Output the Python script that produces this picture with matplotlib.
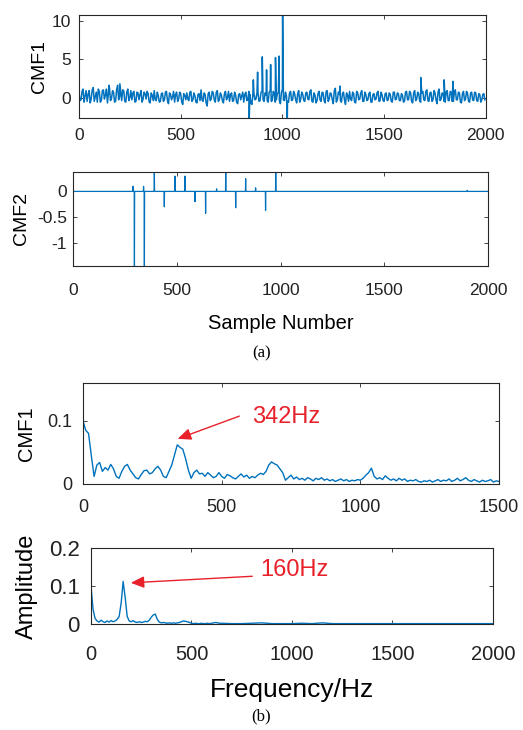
import numpy as np
import matplotlib
matplotlib.use('Agg')
import matplotlib.pyplot as plt

plt.rcParams['font.family'] = 'Liberation Sans'

# ---- (a) time signals ----
# CMF1 noise floor, samples 0, 10, 20, ...
cmf1_noise = [
    0.6, -0.3, 1.1, 0.2, -0.5, 0.9, -0.2, 1.3, 0.1, -0.6, 0.8, -0.4, 1.0, 0.3, -0.7, 1.2, -0.1, 0.7, -0.5, 1.6,
    0.2, -0.4, 0.9, -0.6, 1.1, 0.0, -0.3, 0.8, -0.5, 0.6,
    0.4, -0.6, 0.7, -0.2, 0.5, -0.7, 0.3, 0.9, -0.4, 0.2, -0.5, 0.6, -0.3, 0.8, -0.8, 0.4, 0.1, -0.6, 0.7, -0.2,
    0.5, -0.9, 0.3, 0.6, -0.4, 0.8, -0.3, 0.2, -0.7, 0.5,
    1.0, -0.5, 0.4, -1.1, 0.7, -0.2, 0.6, -0.6, 0.9, -0.3, 0.3, -0.7, 0.8, 0.0, -0.5, 0.6, -0.4, 0.3, -0.8, 0.5,
    0.2, -0.6, 0.7, -0.3, 0.4, -0.9, 0.5, -0.2, 0.6, -0.4,
    0.8, -0.5, 0.3, -0.6, 0.9, -0.4, 0.5, -0.3, 0.7, -0.8, 1.1, -0.4, 0.2, -0.6, 0.8, -0.3, 0.5, -0.7, 0.9, -0.2,
    0.4, -0.5, 0.7, -0.3, 1.0, -0.6, 0.3, -0.4, 0.8, -0.5,
    0.6, -0.7, 0.9, -0.2, 0.5, -0.8, 1.2, -0.3, 0.4, -0.6, 0.7, -0.9, 0.3, 0.8, -0.4, 0.5, -0.7, 0.6, -0.2, 0.9,
    -0.5, 0.4, -0.3, 0.7, -0.6, 0.5, -0.2, 0.8, -0.4, 0.3,
    -0.5, 0.6, -0.3, 0.4, -0.6, 0.7, -0.2, 0.5, -0.4, 0.3, -0.5, 0.8, -0.3, 0.6, -0.7, 0.9, -0.2, 0.5, -0.6, 0.8,
    -0.4, 1.0, -0.5, 0.7, -0.3, 0.6, -0.8, 1.1, -0.2, 0.5,
    -0.6, 0.9, -0.4, 0.7, -0.5, 1.0, -0.3, 0.6, -0.7, 0.8, -0.2, 0.5, -0.6, 0.7, -0.4, 0.6, -0.5, 0.4, -0.3, 0.5,
]
# samples 5, 15, 25, ...
cmf1_noise_mid = [
    -0.4, 0.8, -0.6, 0.9, 0.4, -0.7, 1.0, -0.5, 0.7, 1.1, -0.6, 0.9, -0.2, 1.1, 0.6, -0.4, 0.9, -0.6, 1.0, -0.3,
    0.8, 1.0, -0.5, 0.7, -0.4, 0.9, 0.6, -0.6, 0.7, -0.3,
    0.9, -0.2, 0.5, 0.8, -0.6, 0.6, -0.4, -0.3, 0.7, -0.6, 0.5, -0.5, 0.7, -0.4, 0.6, -0.3, 0.8, 0.4, -0.5, 0.7,
    -0.6, 0.5, -0.3, -0.2, 0.7, -0.5, 0.6, -0.6, 0.4, -0.4,
    -0.3, 0.6, -0.7, 0.5, -0.4, 0.8, -0.3, 0.7, -0.5, 0.6, -0.4, 0.5, -0.3, 0.8, 0.4, -0.5, 0.7, -0.6, 0.4, -0.3,
    0.7, 0.4, -0.4, 0.8, -0.7, 0.5, -0.3, 0.6, -0.5, 0.7,
    -0.3, 0.6, -0.4, 0.7, -0.5, 0.8, -0.6, 0.5, -0.4, 0.6, -0.3, 0.7, -0.5, 0.6, -0.4, 0.8, -0.3, 0.5, -0.6, 0.7,
    -0.4, 0.6, -0.2, 0.8, -0.5, 0.6, -0.7, 0.5, -0.3, 0.7,
    -0.4, 0.8, -0.5, 0.6, -0.3, 0.9, -0.6, 0.7, -0.4, 0.5, -0.3, 0.6, -0.5, -0.2, 0.7, -0.6, 0.8, -0.3, 0.6, -0.5,
    0.7, -0.4, 0.5, -0.6, 0.4, -0.3, 0.6, -0.5, 0.7, -0.4,
    0.5, -0.4, 0.6, -0.5, 0.7, -0.3, 0.6, -0.4, 0.5, -0.6, 0.7, -0.3, 0.8, -0.5, 0.6, -0.4, 0.7, -0.5, 0.6, -0.3,
    0.8, -0.4, 0.6, -0.5, 0.9, -0.3, 0.7, -0.4, 0.6, -0.5,
    0.7, -0.4, 0.8, -0.5, 0.6, -0.3, 0.7, -0.6, 0.5, -0.4, 0.8, -0.5, 0.6, -0.3, 0.7, -0.4, 0.5, -0.6, 0.4, -0.3,
]
cmf1_spike_pos = [148, 201, 837, 857, 878, 901, 922, 942, 966, 984, 1001, 1024, 1283, 1680, 1795, 1838]
cmf1_spike_val = [1.6, 1.8, -2.7, 2.3, 3.3, 5.3, 3.6, 4.3, 5.2, 5.4, 10.8, -2.7, 1.5, 2.6, 2.3, 2.1]

# CMF2 is almost flat with isolated impulses
cmf2_spike_pos = [289, 296, 340, 344, 392, 440, 491, 540, 588, 639, 692, 736, 784, 832, 880, 928, 977, 1900]
cmf2_spike_val = [0.10, -1.46, 0.10, -1.46, 0.38, -0.30, 0.30, 0.30, -0.20, -0.43, 0.05, 0.38, -0.32, 0.25,
                  0.07, -0.37, 0.38, 0.02]

# ---- (b) spectra ----
spec1_freq = np.arange(0, 1501, 10)
spec1_amp = [
    0.100, 0.085, 0.080, 0.045, 0.012, 0.030, 0.034, 0.020, 0.026, 0.022,
    0.031, 0.024, 0.012, 0.009, 0.020, 0.028, 0.031, 0.022, 0.016, 0.010,
    0.008, 0.015, 0.021, 0.022, 0.016, 0.018, 0.024, 0.028, 0.022, 0.012,
    0.010, 0.020, 0.030, 0.046, 0.062, 0.058, 0.055, 0.040, 0.022, 0.009,
    0.018, 0.022, 0.016, 0.017, 0.012, 0.018, 0.014, 0.010, 0.012, 0.018,
    0.012, 0.009, 0.015, 0.013, 0.010, 0.008, 0.012, 0.016, 0.011, 0.014,
    0.009, 0.012, 0.010, 0.014, 0.017, 0.015, 0.020, 0.030, 0.035, 0.032,
    0.030, 0.024, 0.018, 0.006, 0.010, 0.014, 0.008, 0.011, 0.007, 0.009,
    0.006, 0.010, 0.008, 0.005, 0.009, 0.007, 0.010, 0.006, 0.008, 0.005,
    0.007, 0.004, 0.006, 0.008, 0.005, 0.007, 0.004, 0.006, 0.005, 0.007,
    0.006, 0.009, 0.014, 0.018, 0.025, 0.012, 0.008, 0.010, 0.007, 0.013,
    0.009, 0.006, 0.008, 0.005, 0.009, 0.006, 0.008, 0.004, 0.006, 0.005,
    0.007, 0.004, 0.003, 0.005, 0.004, 0.006, 0.003, 0.005, 0.007, 0.004,
    0.006, 0.005, 0.008, 0.004, 0.006, 0.009, 0.005, 0.007, 0.010, 0.006,
    0.004, 0.007, 0.005, 0.003, 0.006, 0.004, 0.005, 0.007, 0.003, 0.005,
    0.004,
]

spec2_freq = np.concatenate([np.arange(0, 650, 10), np.arange(650, 2001, 50)])
spec2_amp = [
    0.100, 0.040, 0.015, 0.008, 0.005, 0.010, 0.006, 0.004, 0.008, 0.005,
    0.009, 0.006, 0.008, 0.012, 0.020, 0.055, 0.112, 0.070, 0.020, 0.008,
    0.006, 0.009, 0.005, 0.004, 0.006, 0.004, 0.005, 0.007, 0.006, 0.010,
    0.018, 0.024, 0.026, 0.012, 0.005, 0.003, 0.004, 0.003, 0.002, 0.003,
    0.002, 0.003, 0.002, 0.003, 0.004, 0.006, 0.008, 0.007, 0.006, 0.004,
    0.002, 0.001, 0.002, 0.001, 0.001, 0.002, 0.001, 0.001, 0.002, 0.001,
    0.002, 0.003, 0.004, 0.003, 0.002,
    0.002, 0.001, 0.001, 0.002, 0.003, 0.001, 0.001, 0.001, 0.002, 0.001,
    0.003, 0.001, 0.001, 0.001, 0.001, 0.001, 0.001, 0.001, 0.001, 0.001,
    0.001, 0.001, 0.001, 0.001, 0.001, 0.001, 0.001, 0.001,
]

blue = '#0072BD'
red = '#E8202A'
edge = '#262626'

fig = plt.figure(figsize=(5.23, 7.30), dpi=100)


def style(ax, fs, xpad, ypad):
    for s in ax.spines.values():
        s.set_color(edge)
        s.set_linewidth(0.8)
    ax.tick_params(direction='in', top=True, right=True, length=3, width=0.6,
                   colors=edge, labelsize=fs, labelcolor='#222222')
    ax.tick_params(axis='x', pad=xpad)
    ax.tick_params(axis='y', pad=ypad)


# panel 1
ax1 = fig.add_axes([0.151, 0.838, 0.778, 0.142])
x1 = np.concatenate([np.arange(0, 2000, 10), np.arange(5, 2000, 10), cmf1_spike_pos])
y1 = np.concatenate([cmf1_noise, cmf1_noise_mid, cmf1_spike_val])
order = np.argsort(x1, kind='stable')
ax1.plot(x1[order], y1[order], color=blue, lw=1.1)
ax1.set_xlim(0, 2000)
ax1.set_ylim(-2.7, 10.8)
ax1.set_yticks([0, 5, 10])
ax1.set_xticks([0, 500, 1000, 1500, 2000])
ax1.set_ylabel('CMF1', fontsize=14, labelpad=3)
style(ax1, 12.5, 7, 5.5)

# panel 2
ax2 = fig.add_axes([0.1396, 0.6356, 0.7935, 0.1288])
x2 = np.arange(0, 2001)
y2 = np.zeros(len(x2))
y2[cmf2_spike_pos] = cmf2_spike_val
ax2.plot(x2, y2, color=blue, lw=0.9)
ax2.set_xlim(0, 2000)
ax2.set_ylim(-1.46, 0.38)
ax2.set_yticks([-1, -0.5, 0])
ax2.set_yticklabels(['-1', '-0.5', '0'])
ax2.set_xticks([0, 500, 1000, 1500, 2000])
ax2.set_ylabel('CMF2', fontsize=14, labelpad=5)
ax2.set_xlabel('Sample Number', fontsize=14.5, labelpad=12)
style(ax2, 12.5, 12, 4.5)

fig.text(0.5, 1 - 353 / 730, '(a)', ha='center', va='center', fontsize=12, family='Liberation Serif')

# panel 3
ax3 = fig.add_axes([0.1587, 0.337, 0.7954, 0.1384])
ax3.plot(spec1_freq, spec1_amp, color=blue, lw=1.0)
ax3.set_xlim(0, 1500)
ax3.set_ylim(0, 0.16)
ax3.set_yticks([0, 0.1])
ax3.set_yticklabels(['0', '0.1'])
ax3.set_xticks([0, 500, 1000, 1500])
ax3.set_ylabel('CMF1', fontsize=14.5, labelpad=8)
style(ax3, 13, 10.5, 7.5)
ax3.annotate('', xy=(332, 0.07), xytext=(573, 0.109),
             arrowprops=dict(arrowstyle='-|>,head_length=0.8,head_width=0.35', color=red, lw=1.0))
ax3.text(609, 0.106, '342Hz', color=red, fontsize=17, ha='left', va='center')

# panel 4
ax4 = fig.add_axes([0.174, 0.1452, 0.7686, 0.1041])
ax4.plot(spec2_freq, spec2_amp, color=blue, lw=1.0)
ax4.set_xlim(0, 2000)
ax4.set_ylim(0, 0.2)
ax4.set_yticks([0, 0.1, 0.2])
ax4.set_yticklabels(['0', '0.1', '0.2'])
ax4.set_xticks([0, 500, 1000, 1500, 2000])
ax4.set_ylabel('Amplitude', fontsize=17, labelpad=8)
ax4.set_xlabel('Frequency/Hz', fontsize=19, labelpad=10)
style(ax4, 14.5, 15, 8)
ax4.tick_params(axis='y', labelsize=16)
ax4.annotate('', xy=(184, 0.108), xytext=(816, 0.126),
             arrowprops=dict(arrowstyle='-|>,head_length=0.8,head_width=0.35', color=red, lw=1.0))
ax4.text(841, 0.142, '160Hz', color=red, fontsize=17, ha='left', va='center')

fig.text(0.5, 1 - 716 / 730, '(b)', ha='center', va='center', fontsize=12, family='Liberation Serif')

fig.savefig('out.png', dpi=100)
